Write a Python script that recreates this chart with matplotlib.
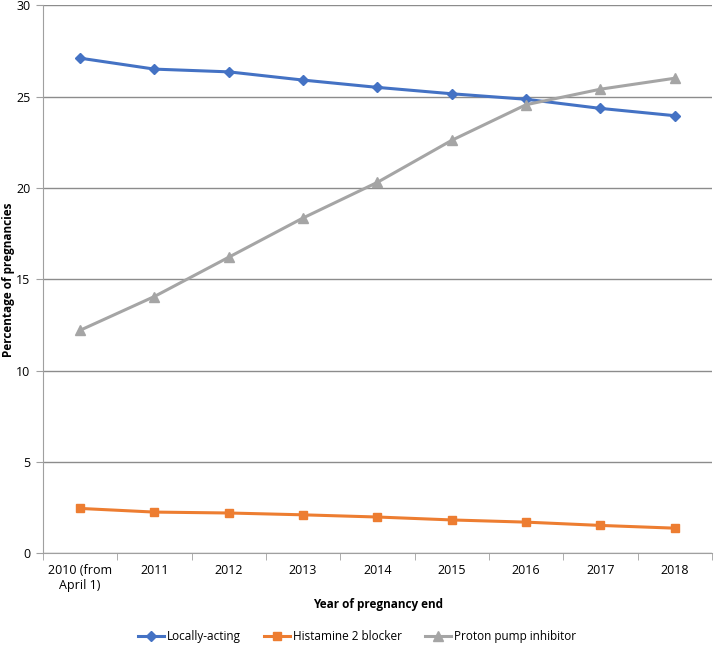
import numpy as np
import matplotlib
matplotlib.use("Agg")
from matplotlib import pyplot as plt

# data
years = ["2010 (from\nApril 1)", "2011", "2012", "2013", "2014", "2015", "2016", "2017", "2018"]
locally_acting = [27.1, 26.5, 26.35, 25.9, 25.5, 25.15, 24.85, 24.35, 23.95]
h2_blocker = [2.45, 2.25, 2.2, 2.1, 1.98, 1.82, 1.7, 1.52, 1.37]
ppi = [12.2, 14.05, 16.2, 18.35, 20.3, 22.6, 24.55, 25.4, 26.0]

plt.rcParams['font.family'] = ['Open Sans', 'DejaVu Sans']
plt.rcParams['font.size'] = 9

fig = plt.figure(figsize=(7.14, 6.47), dpi=100)
ax = fig.add_axes([0.060, 0.145, 0.937, 0.847])

x = np.arange(len(years))
ax.plot(x, locally_acting, color="#4472C4", lw=2.2, marker="D", ms=5, label="Locally-acting")
ax.plot(x, h2_blocker, color="#ED7D31", lw=2.2, marker="s", ms=6, label="Histamine 2 blocker")
ax.plot(x, ppi, color="#A5A5A5", lw=2.2, marker="^", ms=6.5, label="Proton pump inhibitor")

ax.set_xlim(-0.5, len(years) - 0.5)
ax.set_ylim(0, 30)
ax.set_yticks(range(0, 31, 5))
ax.set_xticks(x)
ax.set_xticklabels(years)
ax.set_xticks(np.arange(-0.5, len(years), 1), minor=True)
ax.tick_params(axis="x", which="major", length=0, pad=8)
ax.tick_params(axis="x", which="minor", length=5, color="#A0A0A0", direction="out")
ax.tick_params(axis="y", length=5, color="#A0A0A0", direction="out", pad=4)

ax.grid(axis="y", color="#8C8C8C", lw=1)
ax.set_axisbelow(True)
for s in ["top", "right"]:
    ax.spines[s].set_visible(False)
for s in ["left", "bottom"]:
    ax.spines[s].set_color("#A0A0A0")

fig.text(0.012, 0.567, "Percentage of pregnancies", rotation=90, fontweight="bold",
         fontsize=8.5, ha="center", va="center")
fig.text(0.53, 0.066, "Year of pregnancy end", fontweight="bold", fontsize=8.5,
         ha="center", va="center")

fig.legend(*ax.get_legend_handles_labels(), loc="center", bbox_to_anchor=(0.50, 0.016),
           ncol=3, frameon=False, handlelength=2.2, handletextpad=0.2,
           columnspacing=2.0, borderpad=0, fontsize=8.5)

plt.savefig("out.png", dpi=100)
